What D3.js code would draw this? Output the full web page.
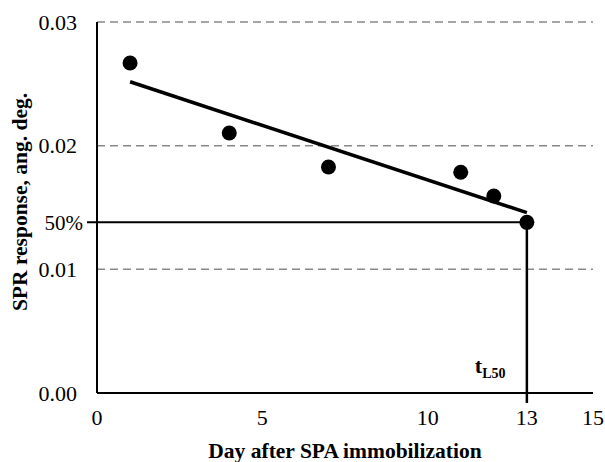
<!DOCTYPE html>
<html>
<head>
<meta charset="utf-8">
<style>
  body { margin: 0; background: #fff; }
  text { font-family: "Liberation Serif", "Times New Roman", serif; fill: #000; }
  .grid line { stroke: #888; stroke-width: 1.5; stroke-dasharray: 8,5; }
  .tick-label { font-size: 22px; }
  .title { font-size: 21.5px; font-weight: bold; }
</style>
</head>
<body>
<script src="https://d3js.org/d3.v7.min.js"></script>
<div class="chart"></div>
<script>
// measured days and SPR responses
var days = [1, 4, 7, 11, 12, 13];
var response = [0.02669, 0.02103, 0.01828, 0.01785, 0.01593, 0.0138];

// linear trend end points
var trendDays = [1, 13];
var trendResponse = [0.02517, 0.01458];

// 50% level and time to reach it
var halfLevel = 0.0138;
var halfDay = 13;

var xTicks = [0, 5, 10, 13, 15];
var yTicks = [0, 0.01, 0.02, 0.03];
var yTickLabels = ["0.00", "0.01", "0.02", "0.03"];

var width = 605, height = 462;
var margin = {top: 22, right: 12, bottom: 69, left: 97};

var x = d3.scaleLinear().domain([0, 15]).range([margin.left, width - margin.right]);
var y = d3.scaleLinear().domain([0, 0.03]).range([height - margin.bottom, margin.top]);

var svg = d3.select(".chart").append("svg")
    .attr("width", width)
    .attr("height", height);

// dashed gridlines (skip zero)
svg.append("g")
    .attr("class", "grid")
    .selectAll("line")
    .data(yTicks.filter(function(d) { return d > 0; }))
    .enter().append("line")
    .attr("x1", x(0))
    .attr("x2", x(15))
    .attr("y1", function(d) { return y(d); })
    .attr("y2", function(d) { return y(d); });

// y tick labels
svg.selectAll(".ylab")
    .data(yTicks)
    .enter().append("text")
    .attr("class", "tick-label")
    .attr("x", x(0) - 20)
    .attr("y", function(d) { return y(d); })
    .attr("dy", "0.35em")
    .attr("text-anchor", "end")
    .text(function(d, i) { return yTickLabels[i]; });

// x tick labels
svg.selectAll(".xlab")
    .data(xTicks)
    .enter().append("text")
    .attr("class", "tick-label")
    .attr("x", function(d) { return x(d); })
    .attr("y", y(0) + 32)
    .attr("text-anchor", "middle")
    .text(function(d) { return d; });

// 50% reference lines
svg.append("line")
    .attr("x1", x(0) - 10).attr("x2", x(halfDay))
    .attr("y1", y(halfLevel)).attr("y2", y(halfLevel))
    .attr("stroke", "#000").attr("stroke-width", 2);

svg.append("line")
    .attr("x1", x(halfDay)).attr("x2", x(halfDay))
    .attr("y1", y(halfLevel)).attr("y2", y(0) + 10)
    .attr("stroke", "#000").attr("stroke-width", 2.5);

svg.append("text")
    .attr("class", "tick-label")
    .attr("x", x(0) - 14)
    .attr("y", y(halfLevel))
    .attr("dy", "0.35em")
    .attr("text-anchor", "end")
    .style("font-size", "21px")
    .text("50%");

// axes
svg.append("line")
    .attr("x1", x(0)).attr("x2", x(0))
    .attr("y1", y(0.03)).attr("y2", y(0))
    .attr("stroke", "#000").attr("stroke-width", 2);
svg.append("line")
    .attr("x1", x(0)).attr("x2", x(15))
    .attr("y1", y(0)).attr("y2", y(0))
    .attr("stroke", "#000").attr("stroke-width", 2);

// trend line
var line = d3.line()
    .x(function(d, i) { return x(trendDays[i]); })
    .y(function(d) { return y(d); });

svg.append("path")
    .datum(trendResponse)
    .attr("d", line)
    .attr("fill", "none")
    .attr("stroke", "#000")
    .attr("stroke-width", 3.5);

// points
svg.selectAll(".dot")
    .data(response)
    .enter().append("circle")
    .attr("cx", function(d, i) { return x(days[i]); })
    .attr("cy", function(d) { return y(d); })
    .attr("r", 7.5)
    .attr("fill", "#000");

// t_L50 label
var tl = svg.append("text")
    .attr("x", x(halfDay) - 52)
    .attr("y", y(0) - 20)
    .style("font-weight", "bold")
    .style("font-size", "22px");
tl.append("tspan").text("t");
tl.append("tspan").attr("dy", 5).style("font-size", "14px").text("L50");

// axis titles
svg.append("text")
    .attr("class", "title")
    .attr("x", (x(0) + x(15)) / 2)
    .attr("y", 458)
    .attr("text-anchor", "middle")
    .text("Day after SPA immobilization");

svg.append("text")
    .attr("class", "title")
    .attr("transform", "translate(27," + 202 + ") rotate(-90)")
    .attr("text-anchor", "middle")
    .text("SPR response, ang. deg.");
</script>
</body>
</html>
